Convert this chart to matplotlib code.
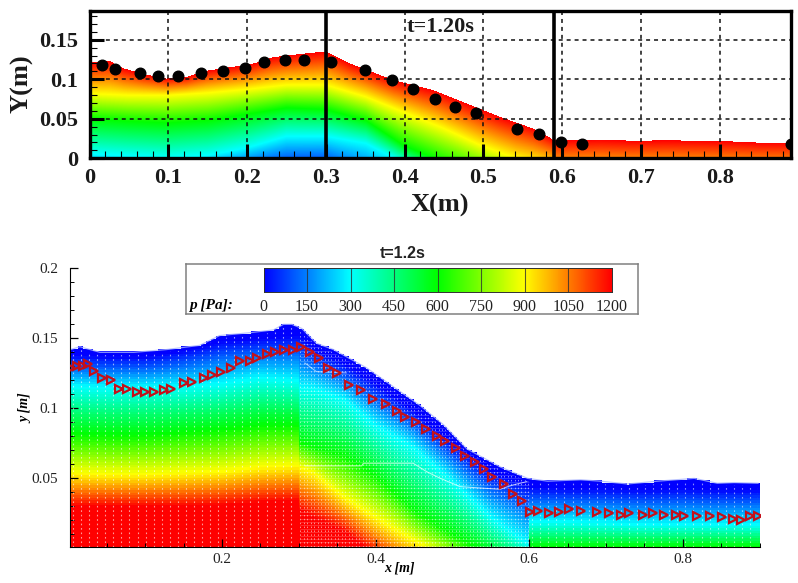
import numpy as np
import matplotlib
matplotlib.use('Agg')
import matplotlib.pyplot as plt
from matplotlib.colors import LinearSegmentedColormap
from matplotlib.path import Path
from matplotlib.ticker import MultipleLocator, FixedLocator, FuncFormatter

W, H = 798, 583

# top panel: free surface and experiment dots
surf_top_x = [0, .026, .043, .068, .098, .123, .149, .183, .208, .233, .267, .297, .303, .331, .352, .386,
              .394, .436, .479, .521, .563, .584, .589, .605, .648, .690, .732, .775, .817, .851, .89]
surf_top_y = [.1215, .123, .114, .107, .101, .103, .111, .116, .120, .128, .132, .135, .134, .120, .112, .099,
              .097, .0865, .0696, .0527, .038, .0266, .023, .023, .024, .0224, .023, .0224, .0215, .02, .02]
dots_x = [.016, .032, .064, .087, .112, .141, .169, .198, .221, .248, .272, .306, .350, .384,
          .411, .438, .464, .490, .543, .570, .599, .625, .89]
dots_y = [.118, .113, .108, .104, .104, .108, .111, .114, .1215, .1245, .1245, .122, .112, .099,
          .088, .075, .065, .057, .0375, .031, .021, .0186, .018]

# top panel: height of each colour level along the channel
lv_top_x = [0, .05, .1, .15, .2, .25, .3, .351, .398, .45, .496, .542, .589, .591, .7, .89]
top_yellow = [.082, .08, .08, .083, .0875, .093, .093, .078, .059, .038, .017, 0, -.01, -.02, -.02, -.022]
top_green = [.05, .047, .045, .048, .056, .064, .062, .048, .017, -.005, -.02, -.04, -.05, -.06, -.06, -.06]
top_cyan = [.006, .003, 0, .004, .0135, .028, .028, .019, -.005, -.03, -.05, -.07, -.09, -.1, -.1, -.1]
top_blue = [-.03, -.03, -.03, -.026, -.02, -.016, -.015, -.04, -.06, -.08, -.1, -.12, -.14, -.15, -.15, -.15]

# bottom panel: free surface
surf_bot_x = [.001, .015, .041, .085, .128, .171, .197, .236, .267, .28, .291, .304, .323, .345, .388, .432,
              .458, .489, .519, .563, .598, .624, .667, .693, .728, .767, .815, .845, .867, .898]
surf_bot_y = [.1417, .144, .140, .140, .142, .145, .152, .154, .156, .160, .160, .157, .1465, .142, .129, .112,
              .102, .088, .071, .058, .050, .048, .049, .048, .046, .048, .050, .0465, .047, .0465]

# bottom panel: simulation markers
tri_x = [.003, .011, .019, .026, .033, .044, .056, .066, .076, .089, .100, .112, .124, .134, .1505, .161,
         .177, .187, .199, .212, .224, .236, .246, .258, .269, .281, .293, .303, .315, .326, .338, .350,
         .365, .381, .397, .413, .428, .438, .452, .466, .480, .491, .505, .517, .529, .541, .552, .567,
         .579, .591, .601, .612, .626, .639, .652, .668, .688, .704, .720, .730, .748, .761, .775, .791,
         .802, .819, .835, .851, .865, .876, .887, .898]
tri_y = [.129, .130, .130, .132, .127, .122, .1205, .114, .114, .1115, .1115, .1115, .113, .114, .118, .119,
         .1215, .124, .126, .129, .134, .134, .136, .139, .140, .142, .142, .144, .140, .136, .129, .125,
         .117, .113, .107, .103, .098, .094, .090, .0855, .080, .077, .0715, .066, .062, .057, .051, .046,
         .039, .034, .026, .0265, .025, .026, .028, .0265, .026, .025, .024, .025, .024, .025, .024, .024,
         .023, .023, .023, .0227, .021, .020, .023, .023]

# bottom panel: height of each pressure level along the channel
lv_bot_x = [0, .05, .1, .15, .2, .25, .299, .301, .32, .36, .40, .45, .50, .55, .599, .601, .65, .7, .75, .8, .85, .9]
bot_1200 = [.030, .030, .030, .030, .031, .033, .034, .027, .022, .012, -.005, -.025, -.045, -.065, -.08,
            -.06, -.06, -.06, -.06, -.06, -.06, -.06]
bot_900 = [.054, .053, .053, .054, .055, .058, .059, .058, .054, .036, .022, .006, -.01, -.03, -.05,
           -.03, -.03, -.03, -.03, -.03, -.03, -.03]
bot_600 = [.082, .081, .081, .083, .085, .088, .088, .076, .072, .066, .052, .027, .010, -.005, -.02,
           .001, .001, .001, .001, .001, .001, .001]
bot_300 = [.116, .115, .115, .116, .118, .122, .120, .115, .114, .106, .088, .072, .048, .022, .003,
           .019, .019, .018, .017, .017, .017, .017]
bot_0 = [.138, .137, .137, .141, .148, .150, .152, .152, .143, .132, .118, .098, .075, .055, .046,
         .044, .043, .043, .042, .043, .042, .042]

# thin white seam lines in the lower field
seam1_x = [.308, .382, .384, .449, .4665, .484, .51, .562, .579, .597]
seam1_y = [.0589, .0589, .0608, .0608, .0548, .0501, .0441, .0422, .0453, .0477]
seam2_x = [.308, .323, .362]
seam2_y = [.1324, .1262, .1253]

cbar_ticks = [0, 150, 300, 450, 600, 750, 900, 1050, 1200]

cmap = LinearSegmentedColormap.from_list('tec', ['#0000ff', '#00ffff', '#00ff00', '#ffff00', '#ff0000'], N=512)
SERIF = 'Liberation Serif'


def px_axes(fig, left, top, right, bottom):
    return fig.add_axes([left / W, 1 - bottom / H, (right - left) / W, (bottom - top) / H])


def field(xg, yg, lv, values, line):
    # per column: pressure between the level heights, masked above the surface
    z = np.zeros((len(yg), len(xg)))
    for i in range(len(xg)):
        z[:, i] = np.interp(yg, [l[i] for l in lv], values)
    return np.ma.masked_where(yg[:, None] > line[None, :], z)


fig = plt.figure(figsize=(W / 100, H / 100), dpi=100)

# ---- top panel
ax = px_axes(fig, 89.5, 10.5, 790.7, 158.3)
ax.set_xlim(0, .89)
ax.set_ylim(0, .187)
xg = np.linspace(0, .89, 702)
yg = np.linspace(0, .187, 149)
line = np.interp(xg, surf_top_x, surf_top_y)
lv = [np.interp(xg, lv_top_x, l) for l in [top_blue, top_cyan, top_green, top_yellow]] + [line]
z = field(xg, yg, lv, [0, 300, 600, 900, 1200], line)
ax.pcolormesh(xg, yg, z, cmap=cmap, vmin=0, vmax=1200, shading='nearest', rasterized=True, zorder=1)

ax.xaxis.set_major_locator(MultipleLocator(.1))
ax.xaxis.set_minor_locator(MultipleLocator(.02))
ax.yaxis.set_major_locator(FixedLocator([0, .05, .1, .15]))
ax.yaxis.set_minor_locator(MultipleLocator(.01))
ax.xaxis.set_major_formatter(FuncFormatter(lambda v, p: '%g' % round(v, 2)))
ax.yaxis.set_major_formatter(FuncFormatter(lambda v, p: '%g' % round(v, 2)))
ax.tick_params(which='major', direction='in', length=10, width=2.2, zorder=5)
ax.tick_params(which='minor', direction='in', length=5, width=.8)
ax.tick_params(axis='x', which='major', pad=7)
ax.tick_params(axis='y', which='major', pad=8)
ax.set_axisbelow(False)
ax.grid(True, which='major', color='#111111', lw=1.1, ls=(0, (2.6, 2.6)), zorder=3)
for lab in ax.get_xticklabels() + ax.get_yticklabels():
    lab.set_fontfamily(SERIF)
    lab.set_fontweight('bold')
    lab.set_fontsize(16)
    lab.set_color('#1a1a1a')
for s in ax.spines.values():
    s.set_linewidth(2.4)
    s.set_zorder(6)
ax.axvline(.3, color='black', lw=2.6, zorder=4)
ax.axvline(.59, color='black', lw=2.6, zorder=4)
ax.scatter(dots_x, dots_y, s=58, color='black', zorder=5)
ax.text(.445, .166, 't=1.20s', fontfamily=SERIF, fontweight='bold', fontsize=16, ha='center', va='center', color='#1a1a1a')
fig.text(440 / W, 1 - 205 / H, 'X(m)', fontfamily=SERIF, fontweight='bold', fontsize=19, ha='center', va='center', color='#1a1a1a')
fig.text(22 / W, 1 - 84 / H, 'Y(m)', fontfamily=SERIF, fontweight='bold', fontsize=19, rotation=90, ha='center', va='center', color='#1a1a1a')

# ---- bottom panel
ax2 = px_axes(fig, 69.5, 268.3, 760, 547)
x0, x1 = .0014, .9006
y0, y1 = .001, .2
ax2.set_xlim(x0, x1)
ax2.set_ylim(y0, y1)
xg = np.linspace(x0, .8985, 276)
yg = np.linspace(y0, .165, 92)
line = np.interp(xg, surf_bot_x, surf_bot_y)
lv = [np.interp(xg, lv_bot_x, l) for l in [bot_1200, bot_900, bot_600, bot_300, bot_0]]
z = field(xg, yg, lv, [1200, 900, 600, 300, 0], line)
ax2.pcolormesh(xg, yg, z, cmap=cmap, vmin=0, vmax=1200, shading='nearest', rasterized=True, zorder=1)
ax2.plot(surf_bot_x, surf_bot_y, color='#a9b4ff', lw=.9, alpha=.8, zorder=1.5)

# particle gaps, clipped to the water body
sx = np.array(surf_bot_x)
sy = np.array(surf_bot_y)
water = Path(np.column_stack([np.r_[sx[0], sx, sx[-1]], np.r_[y0, sy - .002, y0]]))
gap_sets = [(np.arange(.006, .3, .0105), .6, .8), (np.arange(.302, .6, .0045), .55, .7), (np.arange(.604, .898, .0105), .55, .8)]
for xs, a, lw in gap_sets:
    vl = ax2.vlines(xs, y0, .165, color='white', lw=lw, alpha=a, linestyles=(0, (1.5, 2.5)), zorder=2)
    vl.set_clip_path(water, ax2.transData)
hl = ax2.hlines(np.arange(.002, .15, .0024), .302, .6, color='white', lw=.45, alpha=.28, zorder=2)
hl.set_clip_path(water, ax2.transData)
ax2.plot(seam1_x, seam1_y, color='white', lw=.7, alpha=.7, zorder=2)
ax2.plot(seam2_x, seam2_y, color='white', lw=.7, alpha=.6, zorder=2)
ax2.plot(tri_x, tri_y, ls='none', marker='>', ms=5.5, mfc='none', mec='#c4101a', mew=1.6, zorder=4)

ax2.spines['top'].set_visible(False)
ax2.spines['right'].set_visible(False)
ax2.xaxis.set_major_locator(FixedLocator([.2, .4, .6, .8]))
ax2.xaxis.set_minor_locator(MultipleLocator(.05))
ax2.yaxis.set_major_locator(FixedLocator([.05, .1, .15, .2]))
ax2.yaxis.set_minor_locator(MultipleLocator(.01))
ax2.xaxis.set_major_formatter(FuncFormatter(lambda v, p: '%g' % round(v, 2)))
ax2.yaxis.set_major_formatter(FuncFormatter(lambda v, p: '%g' % round(v, 2)))
ax2.tick_params(which='major', direction='in', length=6, width=.9)
ax2.tick_params(axis='x', which='major', pad=4)
ax2.tick_params(axis='y', which='major', pad=8)
ax2.tick_params(which='minor', direction='in', length=3, width=.7)
for lab in ax2.get_xticklabels() + ax2.get_yticklabels():
    lab.set_fontfamily(SERIF)
    lab.set_fontsize(11)
    lab.set_color('#222222')
fig.text(399 / W, 1 - 568 / H, 'x [m]', fontfamily=SERIF, fontweight='bold', style='italic', fontsize=10, ha='center', va='center')
fig.text(26 / W, 1 - 408 / H, 'y [m]', fontfamily=SERIF, fontweight='bold', style='italic', fontsize=10, rotation=90, ha='center', va='center')
fig.text(403 / W, 1 - 253 / H, 't=1.2s', fontfamily='Liberation Sans', fontweight='bold', fontsize=11.5, ha='center', va='center', color='#222222')

# ---- colour legend
box = px_axes(fig, 185.5, 264.3, 637.7, 314.3)
box.set_xticks([])
box.set_yticks([])
box.set_zorder(7)
for s in box.spines.values():
    s.set_color('#808080')
    s.set_linewidth(1.1)
box.text(.008, .18, 'p [Pa]:', transform=box.transAxes, fontfamily=SERIF, fontweight='bold', style='italic', fontsize=11, ha='left', va='center')

cb = px_axes(fig, 263.5, 268, 611.7, 291.7)
cb.set_zorder(8)
grad = np.linspace(0, 1200, 500)
cb.pcolormesh(grad, [0, 1], np.vstack([grad, grad]), cmap=cmap, vmin=0, vmax=1200, shading='gouraud', rasterized=True)
cb.set_xlim(0, 1200)
cb.set_yticks([])
cb.set_xticks(cbar_ticks)
cb.set_xticklabels([str(t) for t in cbar_ticks], fontfamily=SERIF, fontsize=11.5, color='#222222')
cb.tick_params(axis='x', length=0, pad=5)
for t in cbar_ticks[1:-1]:
    cb.axvline(t, color='#303030', lw=.8, alpha=.8)
for s in cb.spines.values():
    s.set_linewidth(.7)
    s.set_color('#303030')

fig.savefig('out.png', dpi=100)
